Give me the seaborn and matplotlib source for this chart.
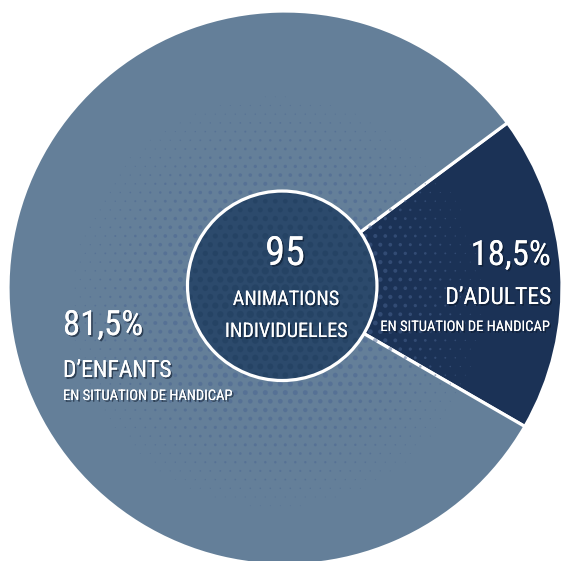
import numpy as np
import seaborn as sns
import matplotlib.pyplot as plt
import matplotlib.patheffects as pe
from matplotlib import font_manager
from matplotlib.patches import Circle

# data
labels = ["Adultes", "Enfants"]
shares = [18.5, 81.5]
total_animations = 95
colors = ["#1b3256", "#647f99"]
inner_color = "#2c4a6c"

sns.set_theme(style="white")
installed = {f.name for f in font_manager.fontManager.ttflist}
narrow = [n for n in ['Liberation Sans Narrow', 'Roboto Condensed', 'Open Sans Condensed',
                      'Noto Sans Condensed', 'DejaVu Sans Condensed', 'Roboto'] if n in installed]
plt.rcParams['font.family'] = narrow[:1] + ['DejaVu Sans']

W = 561
R = 277.0           # outer radius in px
CX, CY = 285.0, 288.0  # pie centre in px (from top-left)

fig = plt.figure(figsize=(5.61, 5.61), dpi=100)
ax = fig.add_axes([0, 0, 1, 1])

wedges, _ = ax.pie(shares, colors=colors, startangle=-30, counterclock=True,
                   radius=1.0,
                   wedgeprops=dict(edgecolor='white', linewidth=2.3))
for w in wedges:
    w.set_zorder(1)
ax.set_xlim(-CX / R, (W - CX) / R)
ax.set_ylim(-(W - CY) / R, CY / R)
ax.set_aspect('equal')
ax.axis('off')

# halftone dots (decoration)
step = 10 / R
gx, gy = np.meshgrid(np.arange(-1.1, 1.1, step), np.arange(-1.1, 1.1, step * 0.87))
gx = gx + (np.arange(gy.shape[0])[:, None] % 2) * step / 2
dx, dy = gx + 0.03, gy + 0.05
d = np.hypot(dx, dy)
size_px = np.clip(8.5 * (1 - d / 0.82), 0, None)
keep = size_px > 0.8
outer_clip = Circle((0, 0), 1.0, transform=ax.transData)
dots = ax.scatter(gx[keep], gy[keep], s=(size_px[keep] * 0.72) ** 2,
                  color='#4a6592', alpha=0.5, linewidths=0, zorder=2)
dots.set_clip_path(outer_clip)

r_in = 0.342
inner = Circle((-0.01, 0.008), r_in, facecolor=inner_color, edgecolor='none', zorder=3)
ax.add_patch(inner)
dots2 = ax.scatter(gx[keep], gy[keep], s=(size_px[keep] * 0.72) ** 2,
                   color='#203d5e', alpha=0.5, linewidths=0, zorder=4)
dots2.set_clip_path(inner)
ax.add_patch(Circle((-0.01, 0.008), r_in, facecolor='none', edgecolor='white',
                    linewidth=2.3, zorder=5))

shadow = [pe.withSimplePatchShadow(offset=(1.2, -1.2), shadow_rgbFace='#0a1628', alpha=0.6),
          pe.Normal()]


def label(x, y, s, size, ha):
    fig.text(x / W, 1 - y / W, s, fontsize=size, color='white', ha=ha,
             va='baseline', fontstretch='condensed', path_effects=shadow, zorder=10)


# centre
label(285, 265, str(total_animations), 29, 'center')
label(286, 305, "ANIMATIONS", 14.5, 'center')
label(286, 337, "INDIVIDUELLES", 14.5, 'center')

# adults
label(551, 265, f"{shares[0]:.1f}%".replace('.', ','), 25, 'right')
label(551, 304, "D\u2019ADULTES", 17, 'right')
label(549, 331, "EN SITUATION DE HANDICAP", 10.5, 'right')

# children
label(63, 335, f"{shares[1]:.1f}%".replace('.', ','), 25, 'left')
label(63, 377, "D\u2019ENFANTS", 17, 'left')
label(63, 400, "EN SITUATION DE HANDICAP", 10.5, 'left')

fig.savefig('out.png', dpi=100, facecolor='white')
